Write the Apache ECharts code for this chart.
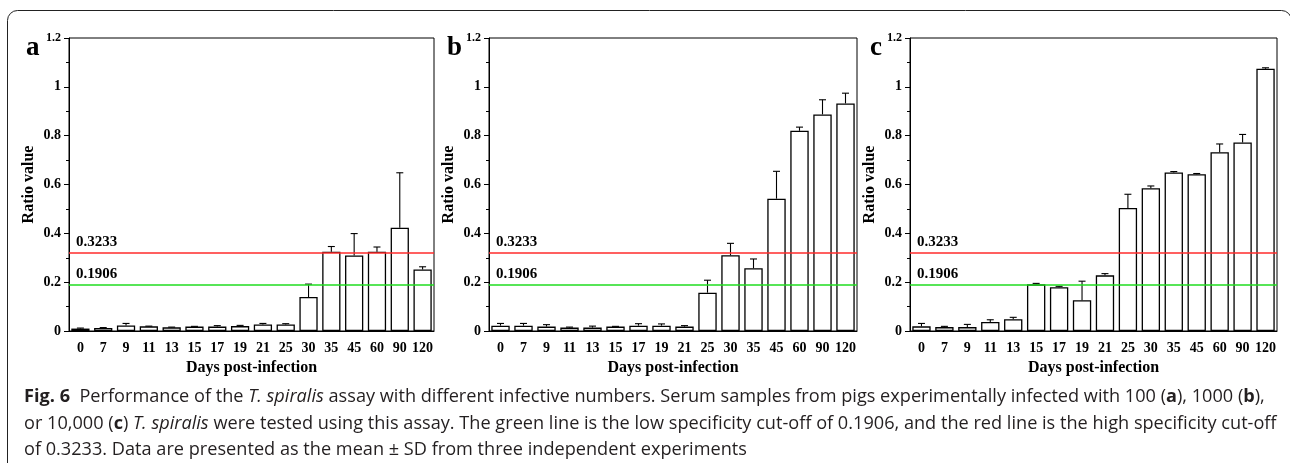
<!DOCTYPE html>
<html>
<head>
<meta charset="utf-8">
<script src="https://cdn.jsdelivr.net/npm/echarts@6/dist/echarts.min.js"></script>
<style>
html,body{margin:0;padding:0;background:#fff;}
#chart{width:1290px;height:463px;}
</style>
</head>
<body>
<div id="chart"></div>
<script>
// ---- data ----
const days = ['0','7','9','11','13','15','17','19','21','25','30','35','45','60','90','120'];
const yTicks = [0, 0.2, 0.4, 0.6, 0.8, 1, 1.2];
const cutHigh = 0.3233;
const cutLow = 0.1906;
const cutLabels = ['0.3233', '0.1906'];

const meanA = [0.010,0.012,0.023,0.019,0.015,0.018,0.018,0.020,0.027,0.027,0.139,0.325,0.309,0.325,0.423,0.252];
const sdA   = [0.002,0.002,0.008,0.001,0.001,0.001,0.004,0.003,0.004,0.003,0.053,0.021,0.090,0.019,0.225,0.011];

const meanB = [0.022,0.022,0.018,0.014,0.014,0.018,0.022,0.022,0.018,0.157,0.310,0.257,0.542,0.820,0.887,0.932];
const sdB   = [0.009,0.009,0.008,0.002,0.006,0.001,0.008,0.007,0.004,0.051,0.049,0.038,0.112,0.015,0.060,0.042];

const meanC = [0.019,0.016,0.016,0.037,0.048,0.191,0.179,0.126,0.228,0.504,0.585,0.649,0.642,0.732,0.772,1.074];
const sdC   = [0.012,0.003,0.011,0.009,0.008,0.004,0.004,0.078,0.007,0.056,0.009,0.004,0.003,0.034,0.033,0.004];

const panelLetters = ['a','b','c'];
const xTitle = 'Days post-infection';
const yTitle = 'Ratio value';

// ---- layout ----
const SERIF = '"Liberation Serif","Times New Roman",serif';
const grids = [
  {left: 69, width: 365, top: 38, height: 293},
  {left: 489, width: 368, top: 38, height: 293},
  {left: 910, width: 367, top: 38, height: 293}
];
const letterPos = [[26, 35], [447, 35], [870, 35]];
const means = [meanA, meanB, meanC];
const sds = [sdA, sdB, sdC];

const chart = echarts.init(document.getElementById('chart'), null, {renderer: 'canvas'});

const xAxes = [], yAxes = [], series = [];
grids.forEach((g, i) => {
  xAxes.push({
    type: 'category', gridIndex: i, data: days,
    name: xTitle, nameLocation: 'middle', nameGap: 28,
    nameTextStyle: {fontFamily: SERIF, fontWeight: 'bold', fontSize: 16, color: '#000'},
    axisLine: {lineStyle: {color: '#000', width: 1}},
    axisTick: {alignWithLabel: true, length: 5, lineStyle: {color: '#000'}},
    axisLabel: {interval: 0, margin: 10, fontFamily: SERIF, fontWeight: 'bold', fontSize: 14, color: '#000'}
  });
  yAxes.push({
    type: 'value', gridIndex: i, min: yTicks[0], max: yTicks[yTicks.length - 1], interval: 0.2,
    name: yTitle, nameLocation: 'middle', nameGap: 32,
    nameTextStyle: {fontFamily: SERIF, fontWeight: 'bold', fontSize: 16, color: '#000'},
    axisLine: {show: true, lineStyle: {color: '#000', width: 1}},
    axisTick: {show: true, length: 5, lineStyle: {color: '#000'}},
    minorTick: {show: true, splitNumber: 2, length: 3, lineStyle: {color: '#000'}},
    splitLine: {show: false},
    axisLabel: {
      margin: 8, fontFamily: SERIF, fontWeight: 'bold', fontSize: 14, color: '#000',
      formatter: v => Math.abs(v - 1.2) < 1e-9 ? '{s|1.2}' : String(v),
      rich: {s: {fontFamily: SERIF, fontWeight: 'bold', fontSize: 12, color: '#000'}}
    }
  });
  series.push({
    type: 'bar', xAxisIndex: i, yAxisIndex: i, data: means[i], barWidth: '80%',
    itemStyle: {color: '#fff', borderColor: '#000', borderWidth: 1.3},
    silent: true, z: 2,
    markLine: {
      symbol: 'none', silent: true, animation: false,
      data: [
        {yAxis: cutHigh, name: cutLabels[0], lineStyle: {color: '#ff2b2b', width: 1.6, type: 'solid'}},
        {yAxis: cutLow, name: cutLabels[1], lineStyle: {color: '#1fdc1f', width: 1.6, type: 'solid'}}
      ],
      label: {
        position: 'insideStartTop', distance: [7, 3], formatter: p => p.name,
        fontFamily: SERIF, fontWeight: 'bold', fontSize: 15, color: '#000'
      }
    }
  });
  series.push({
    type: 'custom', xAxisIndex: i, yAxisIndex: i, z: 3, silent: true,
    data: means[i].map((m, k) => [k, m, sds[i][k]]),
    encode: {x: 0, y: 1},
    renderItem: (params, api) => {
      const base = api.coord([api.value(0), api.value(1)]);
      const top = api.coord([api.value(0), api.value(1) + api.value(2)]);
      const half = 3.5;
      const st = {stroke: '#000', lineWidth: 1.1};
      return {type: 'group', children: [
        {type: 'line', shape: {x1: base[0], y1: base[1], x2: top[0], y2: top[1]}, style: st},
        {type: 'line', shape: {x1: top[0] - half, y1: top[1], x2: top[0] + half, y2: top[1]}, style: st}
      ]};
    }
  });
});

const capFont = '"Open Sans","Noto Sans",sans-serif';
const CAPSIZE = 18;
const capRich = {
  b: {fontFamily: capFont, fontWeight: 'bold', fontSize: CAPSIZE, fill: '#231f20'},
  i: {fontFamily: capFont, fontStyle: 'italic', fontSize: CAPSIZE, fill: '#231f20'},
  n: {fontFamily: capFont, fontSize: CAPSIZE, fill: '#231f20'}
};
const capLines = [
  '{b|Fig. 6}{n|  Performance of the }{i|T. spiralis}{n| assay with different infective numbers. Serum samples from pigs experimentally infected with 100 (}{b|a}{n|), 1000 (}{b|b}{n|),}',
  '{n|or 10,000 (}{b|c}{n|) }{i|T. spiralis}{n| were tested using this assay. The green line is the low specificity cut-off of 0.1906, and the red line is the high specificity cut-off}',
  '{n|of 0.3233. Data are presented as the mean ± SD from three independent experiments}'
];
const capY = [397, 424, 450];

const graphic = [
  {type: 'rect', shape: {x: 7.5, y: 10.5, width: 1284, height: 600, r: 10}, style: {fill: 'none', stroke: '#222', lineWidth: 1}, z: -1, silent: true}
];
panelLetters.forEach((l, i) => {
  graphic.push({type: 'text', left: letterPos[i][0], top: letterPos[i][1], silent: true,
    style: {text: l, fontFamily: SERIF, fontWeight: 'bold', fontSize: 27, fill: '#000'}});
});
capLines.forEach((t, i) => {
  graphic.push({type: 'text', x: 24, y: capY[i], scaleX: 1.008, silent: true,
    style: {text: t, rich: capRich, verticalAlign: 'middle', textVerticalAlign: 'middle'}});
});

chart.setOption({
  animation: false,
  backgroundColor: '#fff',
  grid: grids.map(g => Object.assign({show: true, borderColor: '#000', borderWidth: 1, backgroundColor: 'transparent'}, g)),
  xAxis: xAxes,
  yAxis: yAxes,
  series: series,
  graphic: graphic
});
</script>
</body>
</html>
